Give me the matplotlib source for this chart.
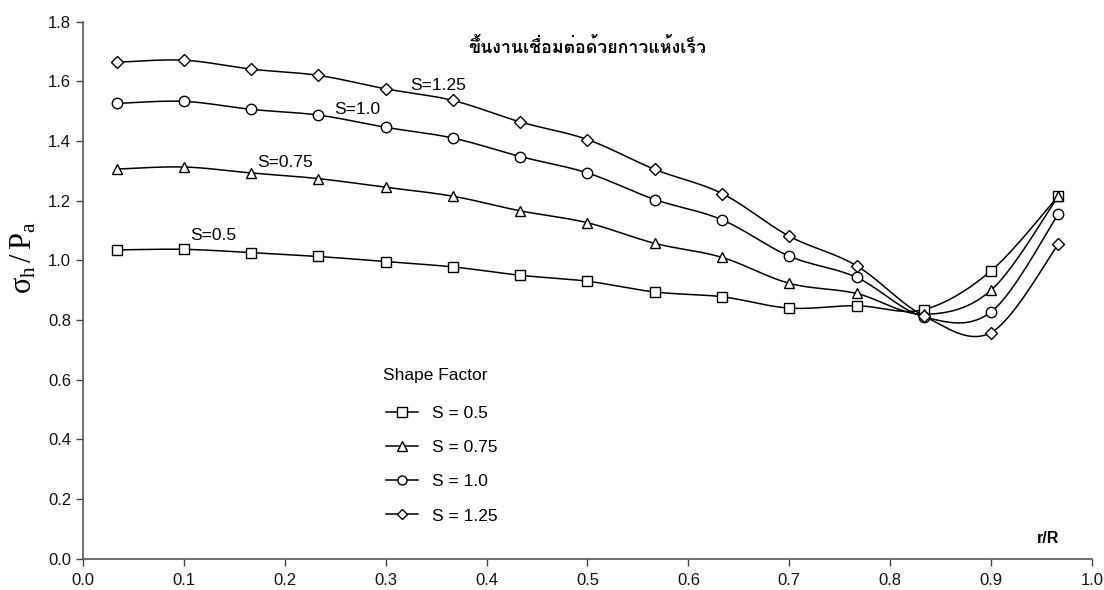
import numpy as np
import matplotlib
matplotlib.use("Agg")
import matplotlib.pyplot as plt
from matplotlib.ticker import FormatStrFormatter

# r/R positions (15 stations)
r_R = [1/30, 3/30, 5/30, 7/30, 9/30, 11/30, 13/30, 15/30,
       17/30, 19/30, 21/30, 23/30, 25/30, 27/30, 29/30]

s_050 = [1.035, 1.037, 1.026, 1.013, 0.996, 0.978, 0.950, 0.930,
         0.894, 0.878, 0.840, 0.848, 0.835, 0.965, 1.216]
s_075 = [1.306, 1.313, 1.293, 1.274, 1.245, 1.215, 1.166, 1.126,
         1.057, 1.010, 0.923, 0.889, 0.819, 0.900, 1.215]
s_100 = [1.526, 1.533, 1.506, 1.487, 1.446, 1.410, 1.348, 1.293,
         1.204, 1.136, 1.014, 0.943, 0.811, 0.827, 1.155]
s_125 = [1.664, 1.671, 1.641, 1.620, 1.575, 1.536, 1.464, 1.405,
         1.305, 1.224, 1.081, 0.982, 0.814, 0.758, 1.054]

legend_labels = ["S = 0.5", "S = 0.75", "S = 1.0", "S = 1.25"]
curve_labels = ["S=0.5", "S=0.75", "S=1.0", "S=1.25"]
markers = ["s", "^", "o", "D"]
title_text = "ขึ้นงานเชื่อมต่อด้วยกาวแห้งเร็ว"


def smooth(x, y, n=20):
    # excel-style smoothed line (Catmull-Rom bezier)
    x = np.asarray(x)
    y = np.asarray(y)
    px = np.concatenate([[x[0]], x, [x[-1]]])
    py = np.concatenate([[y[0]], y, [y[-1]]])
    xs, ys = [], []
    t = np.linspace(0, 1, n)[:, None]
    for i in range(1, len(px) - 2):
        p0 = np.array([px[i], py[i]])
        p3 = np.array([px[i + 1], py[i + 1]])
        c1 = p0 + (p3 - np.array([px[i - 1], py[i - 1]])) / 6
        c2 = p3 - (np.array([px[i + 2], py[i + 2]]) - p0) / 6
        b = (1 - t) ** 3 * p0 + 3 * (1 - t) ** 2 * t * c1 \
            + 3 * (1 - t) * t ** 2 * c2 + t ** 3 * p3
        xs.extend(b[:, 0])
        ys.extend(b[:, 1])
    return xs, ys


plt.rcParams["font.family"] = ["Liberation Sans", "DejaVu Sans"]
plt.rcParams["mathtext.fontset"] = "custom"
plt.rcParams["mathtext.rm"] = "Liberation Serif"
plt.rcParams["mathtext.it"] = "Liberation Serif"
plt.rcParams["mathtext.bf"] = "Liberation Serif:bold"

fig = plt.figure(figsize=(11.04, 5.90), dpi=100)
ax = fig.add_axes([0.0752, 0.0531, 0.9139, 0.9101])

handles = []
for vals, m in zip([s_050, s_075, s_100, s_125], markers):
    sx, sy = smooth(r_R, vals)
    ax.plot(sx, sy, color="black", lw=1.1, zorder=2)
    ms = 6 if m == "D" else 7.5
    ax.plot(r_R, vals, linestyle="none", marker=m, markersize=ms,
            markerfacecolor="white", markeredgecolor="black",
            markeredgewidth=1.0, zorder=3)
    h, = ax.plot([], [], color="black", lw=1.1, marker=m, markersize=ms - 1,
                 markerfacecolor="white", markeredgecolor="black",
                 markeredgewidth=1.0)
    handles.append(h)

ax.set_xlim(0, 1.0)
ax.set_ylim(0, 1.8)
ax.set_xticks(np.arange(0, 1.01, 0.1))
ax.set_yticks(np.arange(0, 1.81, 0.2))
ax.xaxis.set_major_formatter(FormatStrFormatter("%.1f"))
ax.yaxis.set_major_formatter(FormatStrFormatter("%.1f"))
ax.tick_params(direction="out", length=5, width=1, colors="#444444",
               labelsize=12, labelcolor="#111111")
ax.tick_params(axis="x", pad=5)
for side in ["top", "right"]:
    ax.spines[side].set_visible(False)
for side in ["left", "bottom"]:
    ax.spines[side].set_color("#555555")
    ax.spines[side].set_linewidth(1.2)

# labels next to the curves
label_pos = [(0.1295, 1.084), (0.200, 1.329), (0.272, 1.506), (0.352, 1.585)]
for txt, (lx, ly) in zip(curve_labels, label_pos):
    ax.text(lx, ly, txt, fontsize=12.5, ha="center", va="center")

ax.text(0.5, 1.714, title_text, fontsize=12.8, fontweight="bold",
        ha="center", va="center", family=["Loma", "DejaVu Sans"])

ax.text(0.956, 0.069, "r/R", fontsize=11.5, fontweight="bold",
        ha="center", va="center")

fig.text(0.021, 0.563, r"$\sigma_\mathrm{h}\,/\,\mathrm{P}_\mathrm{a}$",
         fontsize=22, rotation=90, ha="center", va="center")

ax.text(0.297, 0.342, "Shape Factor", fontsize=12.5, ha="left", va="center",
        transform=ax.transAxes)
ax.legend(handles, legend_labels, loc="upper left",
          bbox_to_anchor=(0.300, 0.285), frameon=False,
          fontsize=12.5, handlelength=1.85, handletextpad=0.8,
          labelspacing=1.1, borderaxespad=0, borderpad=0)

fig.savefig("out.png", dpi=100)
